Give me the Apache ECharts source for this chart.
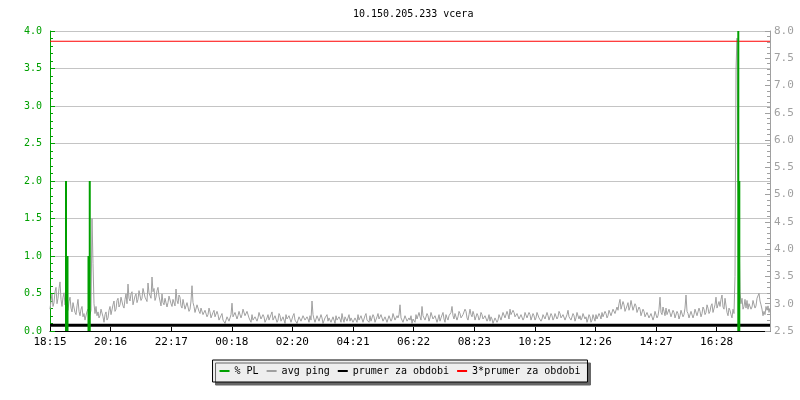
<!DOCTYPE html>
<html>
<head>
<meta charset="utf-8">
<script src="https://cdn.jsdelivr.net/npm/echarts@6/dist/echarts.min.js"></script>
<style>html,body{margin:0;padding:0;background:#fff}#c{width:800px;height:400px}</style>
</head>
<body>
<div id="c"></div>
<script>
// ---- data ----
const titleText = '10.150.205.233 vcera';
const xTickLabels = ['18:15','20:16','22:17','00:18','02:20','04:21','06:22','08:23','10:25','12:26','14:27','16:28'];
const tickStepMin = 121.2;      // minutes between time labels
const totalMin = 1440;          // 24 h window
const pingStepMin = 2;          // minutes between avg ping samples
const legendNames = ['% PL','avg ping','prumer za obdobi','3*prumer za obdobi'];

// avg ping [ms], one sample every 2 minutes from 18:15
const avgPing = [
 2.90,3.05,3.18,2.95,3.02,3.22,3.30,3.00,3.10,3.28,3.40,3.08,2.95,3.12,3.20,2.98,3.05,2.92,2.88,3.04,
 3.12,2.92,2.85,3.02,3.00,2.84,2.80,2.96,3.08,2.86,2.78,2.90,2.95,2.76,2.82,2.70,2.72,2.86,2.90,2.74,
 2.80,2.88,4.56,3.74,3.00,2.82,2.95,2.78,2.85,2.74,2.78,2.90,2.92,2.76,2.66,2.80,2.85,2.70,2.74,2.88,
 2.95,2.80,2.82,2.98,3.05,2.86,2.90,3.06,3.10,2.94,2.98,3.12,3.15,2.96,2.92,3.08,3.18,3.00,3.36,3.10,
 3.05,3.18,3.22,2.98,3.00,3.14,3.18,3.02,3.08,3.24,3.25,3.06,3.10,3.28,3.30,3.12,3.15,3.04,3.38,3.20,
 3.20,3.10,3.49,3.22,3.28,3.06,3.12,3.24,3.30,3.14,3.05,2.96,3.18,3.02,2.98,3.10,3.12,2.94,3.02,3.14,
 3.15,3.00,2.95,3.08,3.10,2.96,3.27,3.06,3.00,3.16,3.12,2.96,2.92,3.08,3.05,2.90,2.88,3.02,3.00,2.86,
 2.90,3.05,3.33,3.02,2.95,2.84,2.85,2.98,3.00,2.86,2.82,2.92,2.95,2.80,2.78,2.88,2.90,2.76,2.80,2.92,
 2.85,2.74,2.72,2.84,2.88,2.76,2.75,2.86,2.80,2.70,2.68,2.78,2.82,2.70,2.72,2.64,2.66,2.76,2.78,2.68,
 2.70,2.80,3.01,2.76,2.75,2.84,2.82,2.72,2.78,2.86,2.85,2.74,2.80,2.90,2.88,2.78,2.76,2.86,2.84,2.74,
 2.72,2.66,2.80,2.70,2.68,2.76,2.78,2.68,2.74,2.84,2.82,2.72,2.70,2.80,2.76,2.66,2.66,2.74,2.80,2.70,
 2.72,2.80,2.85,2.70,2.68,2.78,2.75,2.66,2.70,2.82,2.78,2.68,2.66,2.76,2.74,2.64,2.80,2.72,2.70,2.78,
 2.76,2.66,2.68,2.78,2.82,2.70,2.72,2.64,2.66,2.76,2.74,2.68,2.70,2.78,2.80,2.70,2.68,2.76,2.72,2.66,
 2.78,2.70,3.05,2.80,2.72,2.66,2.68,2.78,2.76,2.68,2.70,2.80,2.74,2.64,2.66,2.74,2.72,2.80,2.68,2.74,
 2.74,2.66,2.66,2.76,2.70,2.64,2.78,2.70,2.68,2.76,2.72,2.66,2.82,2.72,2.66,2.76,2.74,2.68,2.70,2.80,
 2.68,2.74,2.76,2.66,2.64,2.74,2.72,2.66,2.80,2.70,2.70,2.78,2.76,2.66,2.68,2.78,2.82,2.70,2.72,2.66,
 2.78,2.68,2.70,2.80,2.76,2.66,2.68,2.76,2.82,2.72,2.72,2.80,2.78,2.68,2.70,2.76,2.74,2.66,2.68,2.78,
 2.76,2.68,2.72,2.82,2.80,2.70,2.70,2.78,2.74,2.80,2.98,2.74,2.72,2.66,2.68,2.78,2.76,2.68,2.66,2.74,
 2.70,2.78,2.64,2.72,2.74,2.66,2.80,2.72,2.72,2.84,2.76,2.70,2.95,2.78,2.80,2.70,2.72,2.82,2.78,2.68,
 2.74,2.84,2.82,2.72,2.70,2.78,2.76,2.66,2.72,2.80,2.68,2.74,2.76,2.84,2.72,2.66,2.80,2.74,2.70,2.78,
 2.76,2.84,2.95,2.78,2.72,2.82,2.80,2.70,2.76,2.86,2.82,2.74,2.72,2.80,2.78,2.90,2.86,2.74,2.70,2.80,
 2.90,2.80,2.76,2.86,2.80,2.70,2.72,2.82,2.78,2.70,2.74,2.84,2.80,2.72,2.70,2.78,2.76,2.68,2.72,2.80,
 2.68,2.76,2.72,2.64,2.66,2.74,2.74,2.66,2.70,2.80,2.78,2.70,2.72,2.84,2.82,2.74,2.76,2.86,2.80,2.72,
 2.90,2.80,2.78,2.88,2.84,2.76,2.74,2.82,2.80,2.72,2.72,2.80,2.78,2.70,2.74,2.84,2.82,2.74,2.76,2.84,
 2.80,2.70,2.72,2.82,2.78,2.70,2.74,2.84,2.82,2.74,2.76,2.68,2.72,2.80,2.80,2.72,2.74,2.84,2.78,2.70,
 2.72,2.82,2.78,2.70,2.74,2.82,2.80,2.72,2.76,2.86,2.82,2.74,2.74,2.80,2.78,2.70,2.72,2.80,2.88,2.76,
 2.76,2.70,2.72,2.82,2.78,2.68,2.74,2.84,2.82,2.72,2.78,2.70,2.74,2.82,2.80,2.72,2.76,2.66,2.72,2.80,
 2.76,2.66,2.70,2.80,2.74,2.68,2.80,2.72,2.72,2.82,2.78,2.72,2.84,2.76,2.76,2.86,2.82,2.74,2.78,2.88,
 2.86,2.78,2.80,2.90,2.92,2.82,2.84,2.94,2.88,3.00,3.08,2.90,2.92,3.04,2.98,2.86,2.86,2.96,3.02,2.88,
 2.94,3.06,3.05,2.88,2.90,3.00,2.96,2.84,2.86,2.94,2.90,2.78,2.80,2.90,2.86,2.76,2.76,2.84,2.82,2.74,
 2.74,2.82,2.80,2.70,2.76,2.86,2.84,2.74,2.78,2.90,3.12,2.84,2.80,2.94,2.86,2.78,2.92,2.80,2.82,2.90,
 2.88,2.76,2.78,2.88,2.84,2.74,2.76,2.86,2.82,2.72,2.78,2.88,2.86,2.76,2.80,2.92,3.16,2.86,2.82,2.74,
 2.76,2.86,2.84,2.74,2.80,2.90,2.88,2.78,2.78,2.92,2.86,2.76,2.82,2.94,2.90,2.80,2.84,2.98,2.92,2.82,
 2.86,2.96,3.00,2.84,2.82,2.98,3.12,2.92,2.90,3.04,2.95,3.08,3.16,2.94,2.90,3.10,3.08,2.84,2.78,2.92,
 2.88,2.80,2.74,2.90,2.82,3.50,7.30,7.87,5.40,4.40,3.22,3.00,3.10,2.90,2.95,3.08,2.92,3.06,2.90,3.00,
 3.02,2.90,2.94,3.06,3.08,2.92,2.96,3.10,3.10,3.19,3.05,2.98,2.90,2.78,2.86,2.80,2.95,2.88,2.96,2.84,
 2.92
];

// packet loss [%]: [minute from 18:15, value]
const plTimes  = [32, 35, 77, 79.5, 1376.6, 1378.6];
const plValues = [2.0, 1.0, 1.0, 2.0, 4.0, 2.0];

const prumer = 2.604;          // mean ping for the period
const prumer3 = 3 * prumer;    // 3*mean

// ---- chart ----
const GREEN = '#00a000', GRAY = '#a0a0a0', RED = '#ff0000';
const FONT = 'DejaVu Sans Mono';

const pingData = avgPing.map((v, i) => [i * pingStepMin, v]);
const plData = plTimes.map((t, i) => [t, plValues[i]]);

const chart = echarts.init(document.getElementById('c'), null, {renderer: 'canvas'});
chart.setOption({
  animation: false,
  backgroundColor: '#ffffff',
  title: {
    text: titleText, left: 348, top: 4,
    textStyle: {fontFamily: FONT, fontSize: 10, fontWeight: 'normal', color: '#000'}
  },
  grid: {left: 50, right: 30, top: 31, bottom: 69, containLabel: false},
  legend: {
    data: legendNames.map(n => ({name: n, icon: 'rect'})),
    left: 'center', top: 360,
    itemWidth: 10, itemHeight: 2, itemGap: 8,
    padding: [6, 7, 6, 7],
    backgroundColor: '#eeeeee', borderColor: '#000', borderWidth: 1,
    shadowColor: '#666666', shadowOffsetX: 3, shadowOffsetY: 3, shadowBlur: 0,
    textStyle: {fontFamily: FONT, fontSize: 10, color: '#000'},
    selectedMode: false
  },
  xAxis: {
    type: 'value', min: 0, max: totalMin, interval: tickStepMin,
    axisLine: {show: true, onZero: false, lineStyle: {color: '#000', width: 1}},
    axisTick: {show: true, inside: true, length: 4, lineStyle: {color: '#000'}},
    splitLine: {show: false},
    axisLabel: {
      fontFamily: FONT, fontSize: 11, color: '#000', margin: 6, showMaxLabel: false,
      formatter: v => {
        const k = Math.round(v / tickStepMin);
        return k < xTickLabels.length ? xTickLabels[k] : '';
      }
    }
  },
  yAxis: [
    {
      type: 'value', min: 0, max: 4, interval: 0.5, position: 'left',
      axisLine: {show: true, lineStyle: {color: GREEN, width: 1}},
      axisTick: {show: true, inside: true, length: 5, lineStyle: {color: GREEN}},
      minorTick: {show: true, splitNumber: 5, length: 3, lineStyle: {color: GREEN}},
      splitLine: {show: true, lineStyle: {color: '#c4c4c4', width: 1}},
      axisLabel: {fontFamily: FONT, fontSize: 10, color: GREEN, margin: 8, formatter: v => v.toFixed(1)}
    },
    {
      type: 'value', min: 2.5, max: 8.0, interval: 0.5, position: 'right',
      axisLine: {show: true, lineStyle: {color: GRAY, width: 1}},
      axisTick: {show: true, inside: true, length: 5, lineStyle: {color: GRAY}},
      minorTick: {show: true, splitNumber: 5, length: 3, lineStyle: {color: GRAY}},
      splitLine: {show: false},
      axisLabel: {fontFamily: FONT, fontSize: 11, color: GRAY, margin: 4, formatter: v => v.toFixed(1)}
    }
  ],
  series: [
    {
      name: 'avg ping', type: 'line', yAxisIndex: 1, data: pingData,
      showSymbol: false, symbol: 'none', lineStyle: {color: GRAY, width: 1}, itemStyle: {color: GRAY}, z: 2
    },
    {
      name: 'prumer za obdobi', type: 'line', yAxisIndex: 1, data: [[0, prumer], [totalMin, prumer]],
      showSymbol: false, symbol: 'none', lineStyle: {color: '#000', width: 3}, itemStyle: {color: '#000'}, z: 3
    },
    {
      name: '3*prumer za obdobi', type: 'line', yAxisIndex: 1, data: [[0, prumer3], [totalMin, prumer3]],
      showSymbol: false, symbol: 'none', lineStyle: {color: RED, width: 1}, itemStyle: {color: RED}, z: 3
    },
    {
      name: '% PL', type: 'bar', yAxisIndex: 0, data: plData, barWidth: 2,
      itemStyle: {color: GREEN}, z: 4
    }
  ]
});
</script>
</body>
</html>
